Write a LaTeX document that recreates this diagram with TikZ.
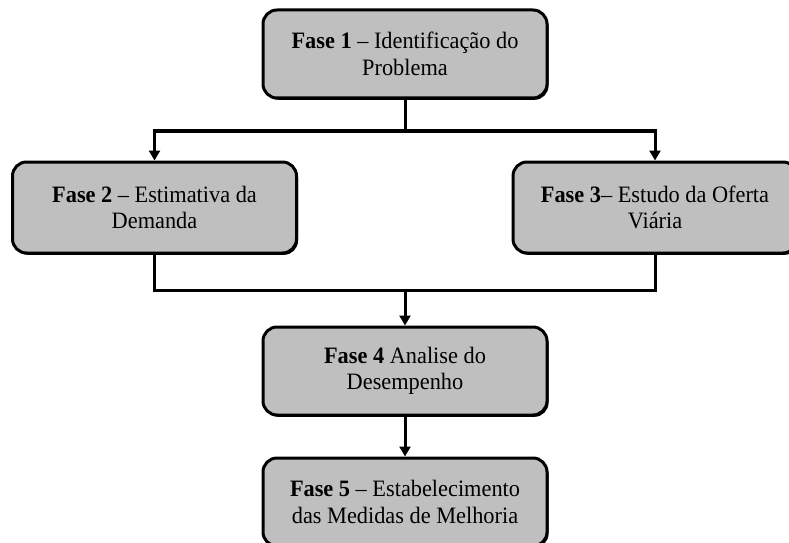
\documentclass[tikz,border=0pt]{standalone}
\usepackage{fontspec}
\setmainfont{Liberation Serif}[FakeStretch=0.95]
\usetikzlibrary{arrows.meta,shadows}
\begin{document}
\begin{tikzpicture}[x=1pt,y=1pt,
  fasebox/.style={draw=black, line width=3pt, fill=black!25, rounded corners=14pt,
    minimum width=284pt, minimum height=88pt, align=center, font=\fontsize{23.5}{26.5}\selectfont,
    inner sep=0pt, drop shadow={shadow xshift=1.5pt, shadow yshift=-1.8pt, fill=black, opacity=1}},
  link/.style={line width=3pt},
  arrowlink/.style={link, -{Triangle[width=11pt,length=10pt]}}]
  \useasboundingbox (0,0) rectangle (789,542);
  % the five phases
  \node[fasebox] (f1) at (405,488) {\textbf{Fase 1} -- Identificação do\\Problema};
  \node[fasebox, minimum height=91pt] (f2) at (154.5,334.5) {\textbf{Fase 2} -- Estimativa da\\Demanda};
  \node[fasebox, minimum height=91pt] (f3) at (655,334.5) {\textbf{Fase 3}-- Estudo da Oferta\\Viária};
  \node[fasebox] (f4) at (405,171) {\textbf{Fase 4} Analise do\\Desempenho};
  \node[fasebox] (f5) at (405,40) {\textbf{Fase 5} -- Estabelecimento\\das Medidas de Melhoria};
  % split bus below phase 1
  \coordinate (top) at (405,411);
  \draw[link] (f1.south) -- (top);
  \draw[arrowlink] (top) -| (f2.north);
  \draw[arrowlink] (top) -| (f3.north);
  % merge bus above phase 4
  \coordinate (bus) at (405,252);
  \draw[link] (f2.south) |- (bus);
  \draw[link] (f3.south) |- (bus);
  \draw[arrowlink] (bus) -- (f4.north);
  \draw[arrowlink] (f4.south) -- (f5.north);
\end{tikzpicture}
\end{document}
